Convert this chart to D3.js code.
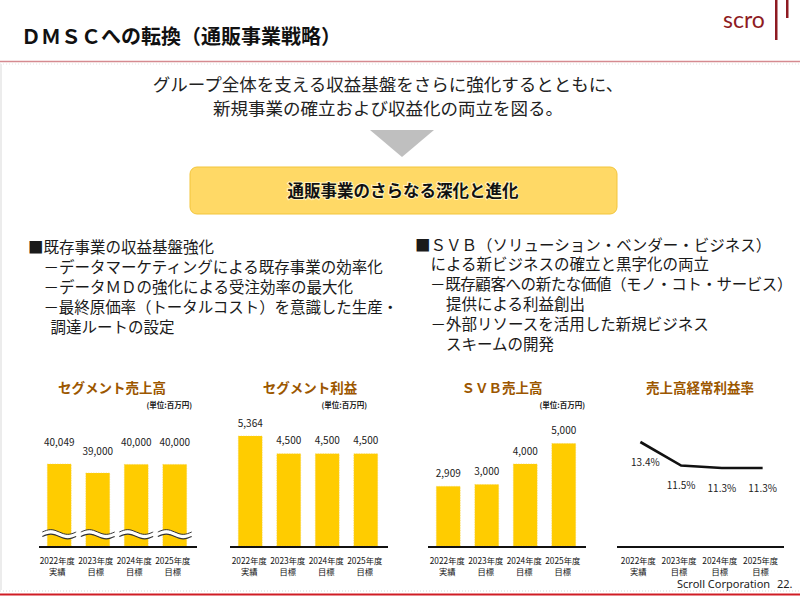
<!DOCTYPE html>
<html>
<head>
<meta charset="utf-8">
<script src="https://cdn.jsdelivr.net/npm/d3@7"></script>
<style>
body{margin:0;background:#fff}
svg{display:block;font-family:"Noto Sans CJK JP","Noto Sans",sans-serif}
</style>
</head>
<body>
<script>
// データ
const years = ["2022年度", "2023年度", "2024年度", "2025年度"];
const kinds = ["実績", "目標", "目標", "目標"];
const segSales = [40049, 39000, 40000, 40000];   // セグメント売上高
const segProfit = [5364, 4500, 4500, 4500];      // セグメント利益
const svbSales = [2909, 3000, 4000, 5000];       // SVB売上高
const ordinaryMargin = [13.4, 11.5, 11.3, 11.3]; // 売上高経常利益率(%)

const titleText = "ＤＭＳＣへの転換（通販事業戦略）";
const leadLines = ["グループ全体を支える収益基盤をさらに強化するとともに、", "新規事業の確立および収益化の両立を図る。"];
const boxText = "通販事業のさらなる深化と進化";
const leftLines = ["■既存事業の収益基盤強化", "　－データマーケティングによる既存事業の効率化", "　－データＭＤの強化による受注効率の最大化", "　－最終原価率（トータルコスト）を意識した生産・", "　  調達ルートの設定"];
const rightLines = ["■ＳＶＢ（ソリューション・ベンダー・ビジネス）", "　による新ビジネスの確立と黒字化の両立", "　－既存顧客への新たな価値（モノ・コト・サービス）", "　　提供による利益創出", "　－外部リソースを活用した新規ビジネス", "　　スキームの開発"];
const chartTitles = ["セグメント売上高", "セグメント利益", "ＳＶＢ売上高", "売上高経常利益率"];
const unitText = "(単位:百万円)";

let width = 800, height = 603;
let base = 546; // 棒の底
let svg = d3.select('body').append('svg')
    .attr('width', width)
    .attr('height', height);

// ヘッダー
svg.append('text').attr('x', 21).attr('y', 37).attr('dy', '0.36em')
    .attr('font-size', '20px').attr('font-weight', 'bold').attr('fill', '#111')
    .text(titleText);
svg.append('line').attr('x1', 0).attr('x2', width).attr('y1', 61.5).attr('y2', 61.5)
    .attr('stroke', '#d58a90').attr('stroke-width', 1.5);
svg.append('line').attr('x1', 0).attr('x2', width).attr('y1', 64).attr('y2', 64)
    .attr('stroke', '#e4e4e4').attr('stroke-dasharray', '1,2');
svg.append('text').attr('x', 723).attr('y', 28)
    .attr('font-size', '23px').attr('fill', '#8e1b22').attr('font-family', 'Lato, sans-serif')
    .text('scro');
svg.append('rect').attr('x', 775).attr('y', 0).attr('width', 2.5).attr('height', 40).attr('fill', '#8e1b22');
svg.append('rect').attr('x', 786).attr('y', 0).attr('width', 2.5).attr('height', 18).attr('fill', '#8e1b22');
svg.append('line').attr('x1', 1).attr('x2', 1).attr('y1', 64).attr('y2', 590)
    .attr('stroke', '#ececec').attr('stroke-width', 2);

// リード文
svg.selectAll('text.lead').data(leadLines).enter().append('text')
    .attr('class', 'lead')
    .attr('x', 388).attr('y', (d, i) => 85 + i * 24).attr('dy', '0.36em')
    .attr('text-anchor', 'middle').attr('font-size', '17.5px').attr('fill', '#222')
    .text(d => d);

// 矢印
svg.append('path').attr('d', 'M370,130 L434,130 L402,157 Z').attr('fill', '#bfbfbf');

// 黄色いボックス
svg.append('rect').attr('x', 190).attr('y', 167).attr('width', 427).attr('height', 47)
    .attr('rx', 7).attr('fill', '#ffd966').attr('stroke', '#f3c53a');
svg.append('text').attr('x', 403).attr('y', 191).attr('dy', '0.36em')
    .attr('text-anchor', 'middle').attr('font-size', '16.5px').attr('font-weight', 'bold').attr('fill', '#111')
    .style('paint-order', 'stroke').attr('stroke', '#fff3c0').attr('stroke-width', 2)
    .text(boxText);

// 箇条書き
function bullets(lines, x, y0, step, maxRight) {
    svg.append('g').selectAll('text').data(lines).enter().append('text')
        .attr('x', x).attr('y', (d, i) => y0 + i * step).attr('dy', '0.36em')
        .attr('font-size', '15.5px').attr('fill', '#1a1a1a')
        .style('white-space', 'pre')
        .text(d => d)
        .each(function(d) {
            // はみ出す行は字間を詰める
            let len = this.getComputedTextLength();
            if (x + len > maxRight) {
                let ls = (maxRight - x - len) / d.length;
                d3.select(this).attr('letter-spacing', ls.toFixed(2) + 'px');
            }
        });
}
bullets(leftLines, 28, 247, 20, 398);
bullets(rightLines, 415, 245, 19.8, 792);

// 棒グラフ
let x1 = d3.scaleBand().domain(years).range([40, 194]).paddingInner(0.38).paddingOuter(0.19);
let x2 = d3.scaleBand().domain(years).range([231, 385]).paddingInner(0.38).paddingOuter(0.19);
let x3 = d3.scaleBand().domain(years).range([429, 583]).paddingInner(0.38).paddingOuter(0.19);
let x4 = d3.scaleBand().domain(years).range([618, 781]);
let y1 = d3.scaleLinear().domain([30500, 40049]).range([base, 464]); // 省略線つき
let y2 = d3.scaleLinear().domain([0, 5364]).range([base, 436]);
let y4 = d3.scaleLinear().domain([11.3, 13.4]).range([468, 442]);

let panels = [
    {title: chartTitles[0], values: segSales, x: x1, y: y1, tx: 112, ux: 192, gap: 18.4, wave: true, shift: -2},
    {title: chartTitles[1], values: segProfit, x: x2, y: y2, tx: 310, ux: 367, gap: 9.4, wave: false, shift: -1},
    {title: chartTitles[2], values: svbSales, x: x3, y: y2, tx: 502, ux: 585, gap: 9.4, wave: false, shift: -1},
    {title: chartTitles[3], values: ordinaryMargin, x: x4, y: y4, tx: 700, line: true, shift: 0}
];

let fmt = d3.format(',');
let waveLine = d3.line().curve(d3.curveBasis);

panels.forEach(function(p) {
    let g = svg.append('g');
    g.append('text').attr('x', p.tx).attr('y', 388).attr('dy', '0.36em')
        .attr('text-anchor', 'middle').attr('font-size', '13.5px').attr('font-weight', 'bold')
        .attr('fill', '#9c5700').text(p.title);
    if (p.ux) {
        g.append('text').attr('x', p.ux).attr('y', 405).attr('dy', '0.36em')
            .attr('text-anchor', 'end').attr('font-size', '7.5px').attr('font-weight', 'bold')
            .attr('fill', '#222').text(unitText);
    }
    let data = years.map((yr, i) => ({year: yr, kind: kinds[i], v: p.values[i]}));
    let r = p.x.range();

    if (!p.line) {
        g.selectAll('rect').data(data).enter().append('rect')
            .attr('x', d => p.x(d.year))
            .attr('y', d => p.y(d.v))
            .attr('width', p.x.bandwidth())
            .attr('height', d => base - p.y(d.v))
            .attr('fill', '#ffcc00')
            .attr('stroke', '#f5d34a').attr('stroke-width', 0.6).attr('stroke-dasharray', '1,1.5');
        g.selectAll('text.val').data(data).enter().append('text')
            .attr('class', 'val')
            .attr('x', d => p.x(d.year) + p.x.bandwidth() / 2)
            .attr('y', d => p.y(d.v) - p.gap)
            .attr('text-anchor', 'middle').attr('font-size', '10px').attr('fill', '#222')
            .text(d => fmt(d.v));
        if (p.wave) {
            // 省略の波線
            data.forEach(function(d) {
                let x0 = p.x(d.year) - 5, w = p.x.bandwidth() + 10, yc = base - 12;
                let top = d3.range(0, 1.001, 0.125).map(t => [x0 + t * w, yc - 2 - 2.6 * Math.sin(t * 2 * Math.PI)]);
                let bot = top.map(q => [q[0], q[1] + 4.5]);
                g.append('path')
                    .attr('d', waveLine(top) + 'L' + waveLine(bot.slice().reverse()).slice(1) + 'Z')
                    .attr('fill', '#fff');
                g.append('path').attr('d', waveLine(top)).attr('fill', 'none').attr('stroke', '#333').attr('stroke-width', 1);
                g.append('path').attr('d', waveLine(bot)).attr('fill', 'none').attr('stroke', '#333').attr('stroke-width', 1.2);
            });
        }
    } else {
        let cx = d => p.x(d.year) + p.x.bandwidth() / 2;
        g.append('path').datum(data)
            .attr('d', d3.line().x(d => cx(d) + 2).y(d => p.y(d.v)))
            .attr('fill', 'none').attr('stroke', '#111').attr('stroke-width', 2.6);
        g.selectAll('text.val').data(data).enter().append('text')
            .attr('class', 'val')
            .attr('x', (d, i) => cx(d) + (i == 0 ? 7 : 2))
            .attr('y', d => p.y(d.v) + 23.5)
            .attr('text-anchor', 'middle').attr('font-size', '10px').attr('fill', '#222')
            .text(d => d3.format('.1f')(d.v) + '%');
    }

    // 底線
    g.append('line').attr('x1', r[0] - 1).attr('x2', r[1] + 3).attr('y1', base + 1).attr('y2', base + 1)
        .attr('stroke', '#111').attr('stroke-width', 2);

    // 年度ラベル
    let lx = d => p.x(d.year) + p.x.bandwidth() / 2 + p.shift;
    let lab = g.selectAll('text.yr').data(data).enter().append('text')
        .attr('class', 'yr')
        .attr('text-anchor', 'middle').attr('font-size', '8.3px').attr('fill', '#111')
        .attr('x', lx);
    lab.append('tspan').attr('y', 564).text(d => d.year);
    lab.append('tspan').attr('x', lx).attr('y', 575).text(d => d.kind);
});

// フッター
svg.append('text').attr('x', 677).attr('y', 588)
    .attr('font-size', '11px').attr('fill', '#222').attr('font-family', '"Noto Sans", sans-serif')
    .text('Scroll Corporation');
svg.append('text').attr('x', 777).attr('y', 588)
    .attr('font-size', '11px').attr('fill', '#222').attr('font-family', '"Noto Sans", sans-serif')
    .text('22.');
svg.append('line').attr('x1', 0).attr('x2', width).attr('y1', 591).attr('y2', 591)
    .attr('stroke', '#d8d8d8').attr('stroke-dasharray', '1,2');
svg.append('line').attr('x1', 0).attr('x2', width).attr('y1', 594.5).attr('y2', 594.5)
    .attr('stroke', '#d01c24').attr('stroke-width', 2);
</script>
</body>
</html>
